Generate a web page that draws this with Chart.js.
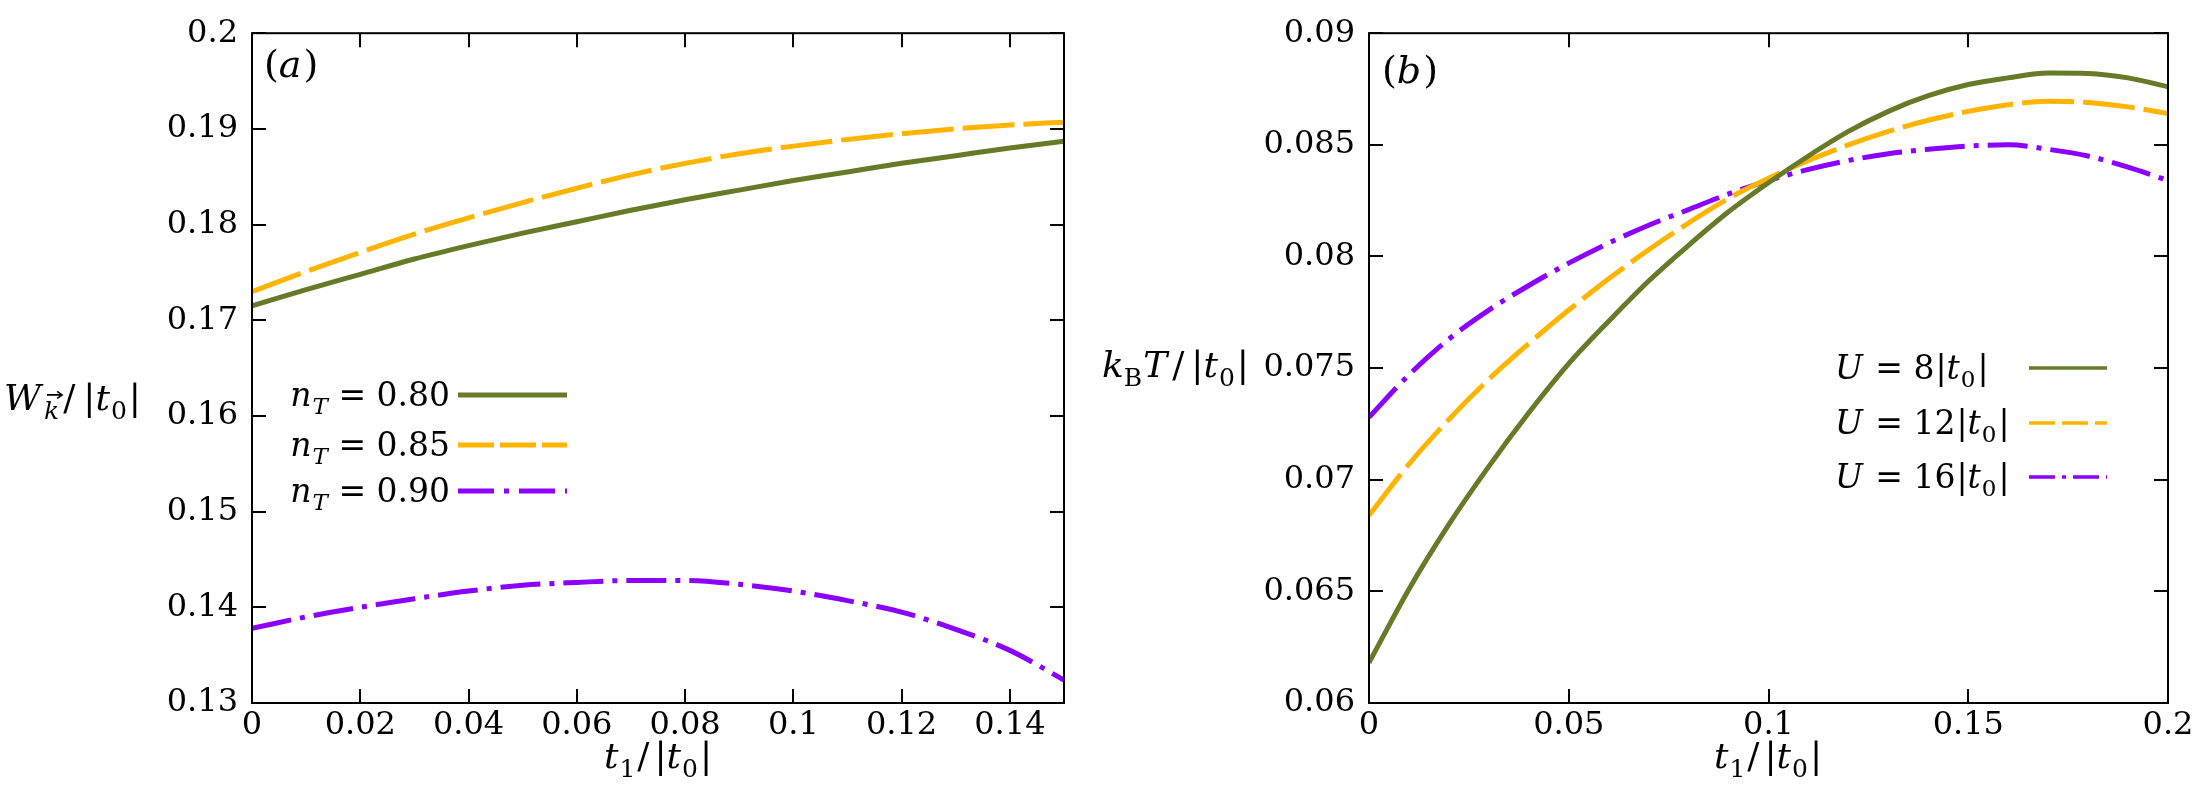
<!DOCTYPE html>
<html>
<head>
<meta charset="utf-8">
<script src="https://cdn.jsdelivr.net/npm/chart.js@4.4.1/dist/chart.umd.min.js"></script>
<style>
  html, body { margin: 0; padding: 0; background: #fff; }
  #wrap { position: relative; width: 2208px; height: 812px; }
  #boxA { position: absolute; left: 0; top: 0; }
  #boxB { position: absolute; left: 1090px; top: 0; }
</style>
</head>
<body>
<div id="wrap">
  <div id="boxA"><canvas id="chartA" width="1090" height="812"></canvas></div>
  <div id="boxB"><canvas id="chartB" width="1118" height="812"></canvas></div>
</div>
<script>
// ---- panel (a): W_k/|t0| vs t1/|t0|
const tA = [0, 0.01, 0.02, 0.03, 0.04, 0.05, 0.06, 0.07, 0.08, 0.09, 0.1, 0.11, 0.12, 0.13, 0.14, 0.15];
const wN080 = [0.1715, 0.1732, 0.1748, 0.1764, 0.1778, 0.1791, 0.1803, 0.1815, 0.1826, 0.1836, 0.1846, 0.1855, 0.1864, 0.1872, 0.1880, 0.1887];
const wN085 = [0.1730, 0.1751, 0.1771, 0.1790, 0.1807, 0.1823, 0.1838, 0.1852, 0.1864, 0.1874, 0.1882, 0.1889, 0.1895, 0.1900, 0.1904, 0.1907];
const wN090 = [0.1378, 0.1390, 0.1400, 0.1409, 0.1417, 0.1423, 0.1426, 0.1428, 0.1428, 0.1424, 0.1417, 0.1407, 0.1395, 0.1377, 0.1355, 0.1324];
const xTicksA = [0, 0.02, 0.04, 0.06, 0.08, 0.1, 0.12, 0.14];
const xLabelsA = ['0', '0.02', '0.04', '0.06', '0.08', '0.1', '0.12', '0.14'];
const yTicksA = [0.13, 0.14, 0.15, 0.16, 0.17, 0.18, 0.19, 0.2];
const yLabelsA = ['0.13', '0.14', '0.15', '0.16', '0.17', '0.18', '0.19', '0.2'];
const legendA = ['0.80', '0.85', '0.90'];

// ---- panel (b): k_B T/|t0| vs t1/|t0|
const tB = [0, 0.01, 0.02, 0.03, 0.04, 0.05, 0.06, 0.07, 0.08, 0.09, 0.1, 0.11, 0.12, 0.13, 0.14, 0.15, 0.16, 0.17, 0.18, 0.19, 0.2];
const kTU8 = [0.0618, 0.0651, 0.0680, 0.0706, 0.0730, 0.0752, 0.0771, 0.0789, 0.0805, 0.0820, 0.0833, 0.0845, 0.0856, 0.0865, 0.0872, 0.0877, 0.0880, 0.08822, 0.0882, 0.0880, 0.0876];
const kTU12 = [0.0684, 0.0707, 0.0727, 0.0745, 0.0761, 0.0776, 0.0790, 0.0803, 0.0815, 0.0826, 0.0835, 0.0843, 0.0850, 0.0856, 0.0861, 0.0865, 0.0868, 0.08695, 0.0869, 0.0867, 0.0864];
const kTU16 = [0.0728, 0.0747, 0.0763, 0.0776, 0.0787, 0.0797, 0.0806, 0.0814, 0.0821, 0.0828, 0.0834, 0.0839, 0.0843, 0.0846, 0.0848, 0.08495, 0.0850, 0.0848, 0.0845, 0.0840, 0.0834];
const xTicksB = [0, 0.05, 0.1, 0.15, 0.2];
const xLabelsB = ['0', '0.05', '0.1', '0.15', '0.2'];
const yTicksB = [0.06, 0.065, 0.07, 0.075, 0.08, 0.085, 0.09];
const yLabelsB = ['0.06', '0.065', '0.07', '0.075', '0.08', '0.085', '0.09'];
const legendB = ['8', '12', '16'];

const GREEN = '#667a27', ORANGE = '#ffb400', PURPLE = '#8b00ff';
const DASH = [52, 9], DASHDOT = [40, 9, 5, 9];
const FONT = '"DejaVu Serif", serif';

function setFont(ctx, size, st) {
  const s = st.includes('s') ? Math.round(size * 0.7) : size;
  ctx.font = (st.includes('i') ? 'italic ' : '') + s + 'px ' + FONT;
}

// parts: [text, style, gapAfter]; style: i = italic, s = subscript, v = vector arrow
function drawRich(ctx, parts, x, y, size, align) {
  const widths = parts.map(p => { setFont(ctx, size, p[1]); return ctx.measureText(p[0]).width + (p[2] || 0); });
  const total = widths.reduce((a, b) => a + b, 0);
  let cx = align === 'right' ? x - total : align === 'center' ? x - total / 2 : x;
  ctx.textAlign = 'left';
  ctx.textBaseline = 'alphabetic';
  parts.forEach((p, i) => {
    setFont(ctx, size, p[1]);
    const dy = p[1].includes('s') ? size * 0.24 : 0;
    ctx.fillText(p[0], cx, y + dy);
    if (p[1].includes('v')) {
      const w = widths[i] - (p[2] || 0);
      const ay = y + dy - size * 0.66, x0 = cx + 3, x1 = cx + w + 3;
      ctx.beginPath();
      ctx.lineWidth = 1.6;
      ctx.moveTo(x0, ay); ctx.lineTo(x1, ay);
      ctx.moveTo(x1 - 5, ay - 3.5); ctx.lineTo(x1, ay); ctx.lineTo(x1 - 5, ay + 3.5);
      ctx.stroke();
    }
    cx += widths[i];
  });
}

const frame = {
  id: 'frame',
  afterDraw(chart, args, o) {
    const { ctx, chartArea: a, scales: { x, y } } = chart;
    ctx.save();
    ctx.fillStyle = '#000';
    ctx.strokeStyle = '#000';
    ctx.setLineDash([]);
    ctx.lineWidth = 2;
    ctx.strokeRect(a.left, a.top, a.right - a.left, a.bottom - a.top);
    const L = 14;
    ctx.beginPath();
    x.ticks.forEach(t => {
      const px = Math.round(x.getPixelForValue(t.value));
      ctx.moveTo(px, a.bottom); ctx.lineTo(px, a.bottom - L);
      ctx.moveTo(px, a.top); ctx.lineTo(px, a.top + L);
    });
    y.ticks.forEach(t => {
      const py = Math.round(y.getPixelForValue(t.value));
      ctx.moveTo(a.left, py); ctx.lineTo(a.left + L, py);
      ctx.moveTo(a.right, py); ctx.lineTo(a.right - L, py);
    });
    ctx.stroke();

    drawRich(ctx, o.tag, o.tagPos[0], o.tagPos[1], 38, 'left');
    drawRich(ctx, o.yTitle, o.yTitlePos[0], o.yTitlePos[1], 36, 'left');
    drawRich(ctx, o.xTitle, o.xTitlePos[0], o.xTitlePos[1], 36, 'center');

    const lg = o.legend;
    chart.data.datasets.forEach((ds, i) => {
      const ry = lg.rows[i];
      drawRich(ctx, lg.texts[i], lg.textX, ry + 11, 33, lg.align);
      ctx.beginPath();
      ctx.strokeStyle = ds.borderColor;
      ctx.lineWidth = lg.width;
      ctx.setLineDash(lg.dashes[i]);
      ctx.moveTo(lg.line[0], ry); ctx.lineTo(lg.line[1], ry);
      ctx.stroke();
    });
    ctx.restore();
  }
};

function pts(xs, ys) { return xs.map((t, i) => ({ x: t, y: ys[i] })); }

function lineSet(label, xs, ys, color, dash) {
  return {
    label, data: pts(xs, ys), borderColor: color, borderWidth: 5,
    borderDash: dash, pointRadius: 0, fill: false, cubicInterpolationMode: 'monotone'
  };
}

function makeChart(id, cfg) {
  const tickFont = { family: FONT, size: 32 };
  new Chart(document.getElementById(id), {
    type: 'line',
    data: { datasets: cfg.datasets },
    plugins: [frame],
    options: {
      responsive: false,
      animation: false,
      layout: { padding: { left: 0, right: cfg.padRight, top: 29, bottom: 0 } },
      plugins: { legend: { display: false }, tooltip: { enabled: false }, frame: cfg.frame },
      scales: {
        x: {
          type: 'linear', min: cfg.xMin, max: cfg.xMax,
          grid: { display: false, drawTicks: false }, border: { display: false },
          afterBuildTicks: s => { s.ticks = cfg.xTicks.map(v => ({ value: v })); },
          afterFit: s => { s.height = 109; },
          ticks: { autoSkip: false, maxRotation: 0, padding: 3, color: '#000', font: tickFont,
                   callback: (v, i) => cfg.xLabels[i] }
        },
        y: {
          type: 'linear', min: cfg.yMin, max: cfg.yMax,
          grid: { display: false, drawTicks: false }, border: { display: false },
          afterBuildTicks: s => { s.ticks = cfg.yTicks.map(v => ({ value: v })); },
          afterFit: s => { s.width = cfg.yWidth; },
          ticks: { autoSkip: false, padding: 14, color: '#000', font: tickFont,
                   callback: (v, i) => cfg.yLabels[i] }
        }
      }
    }
  });
}

const absT0 = [['|', '', 0], ['t', 'i', 1], ['0', 's', 2], ['|', '']];
const xTitle = [['t', 'i', 1], ['1', 's', 2], ['/', '', 5]].concat(absT0);

makeChart('chartA', {
  datasets: [
    lineSet('n_T = 0.80', tA, wN080, GREEN, []),
    lineSet('n_T = 0.85', tA, wN085, ORANGE, DASH),
    lineSet('n_T = 0.90', tA, wN090, PURPLE, DASHDOT)
  ],
  xMin: 0, xMax: 0.15, yMin: 0.13, yMax: 0.2,
  xTicks: xTicksA, xLabels: xLabelsA, yTicks: yTicksA, yLabels: yLabelsA,
  yWidth: 252, padRight: 26,
  frame: {
    tag: [['(', ''], ['a', 'i', 2], [')', '']], tagPos: [264, 77],
    yTitle: [['W', 'i', 3], ['k', 'siv', 4], ['/', '', 8]].concat(absT0), yTitlePos: [4, 410],
    xTitle: xTitle, xTitlePos: [658, 768],
    legend: {
      texts: legendA.map(v => [['n', 'i', 1], ['T', 'si'], [' = ' + v, '']]),
      textX: 450, align: 'right', rows: [395, 445, 491], line: [458, 567], width: 5,
      dashes: [[], [36, 6], [36, 10, 5, 10]]
    }
  }
});

makeChart('chartB', {
  datasets: [
    lineSet('U = 8|t0|', tB, kTU8, GREEN, []),
    lineSet('U = 12|t0|', tB, kTU12, ORANGE, DASH),
    lineSet('U = 16|t0|', tB, kTU16, PURPLE, DASHDOT)
  ],
  xMin: 0, xMax: 0.2, yMin: 0.06, yMax: 0.09,
  xTicks: xTicksB, xLabels: xLabelsB, yTicks: yTicksB, yLabels: yLabelsB,
  yWidth: 279, padRight: 40,
  frame: {
    tag: [['(', ''], ['b', 'i', 2], [')', '']], tagPos: [292, 83],
    yTitle: [['k', 'i'], ['B', 's', 1], ['T', 'i', 5], ['/', '', 7]].concat(absT0), yTitlePos: [12, 377],
    xTitle: xTitle, xTitlePos: [678, 768],
    legend: {
      texts: legendB.map(v => [['U', 'i', 2], [' = ' + v, '', 1]].concat(absT0)),
      textX: 745, align: 'left', rows: [368, 423, 477], line: [939, 1017], width: 3.5,
      dashes: [[], [26, 7], [26, 7, 4, 7]]
    }
  }
});
</script>
</body>
</html>
